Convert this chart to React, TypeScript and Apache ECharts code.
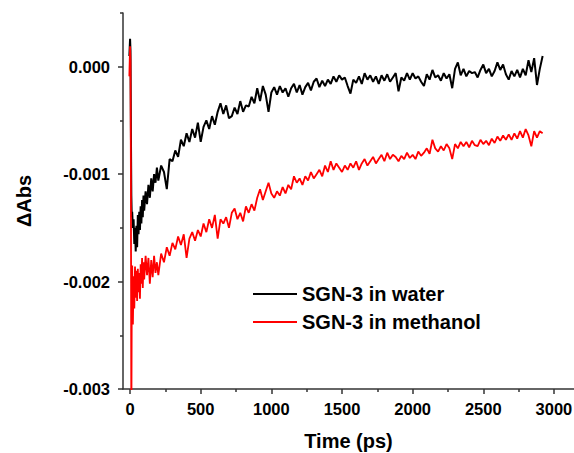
import React, { useEffect, useRef } from "react";
import * as echarts from "echarts";

// Time axis (ps)
const times: number[] = [
  -5, 0, 3, 6, 9, 12, 15,
  20, 25, 30, 35, 40, 45, 50, 55, 60, 65, 70, 75, 80, 85, 90, 95, 100,
  110, 120, 130, 140, 150, 160, 170, 180, 190, 200,
  220, 240, 260, 280, 300, 320, 340, 360, 380, 400,
  420, 440, 460, 480, 500, 520, 540, 560, 580, 600,
  620, 640, 660, 680, 700, 720, 740, 760, 780, 800,
  820, 840, 860, 880, 900, 920, 940, 960, 980, 1000,
  1020, 1040, 1060, 1080, 1100, 1120, 1140, 1160, 1180, 1200,
  1220, 1240, 1260, 1280, 1300, 1320, 1340, 1360, 1380, 1400,
  1420, 1440, 1460, 1480, 1500, 1520, 1540, 1560, 1580, 1600,
  1620, 1640, 1660, 1680, 1700, 1720, 1740, 1760, 1780, 1800,
  1820, 1840, 1860, 1880, 1900, 1920, 1940, 1960, 1980, 2000,
  2020, 2040, 2060, 2080, 2100, 2120, 2140, 2160, 2180, 2200,
  2220, 2240, 2260, 2280, 2300, 2320, 2340, 2360, 2380, 2400,
  2420, 2440, 2460, 2480, 2500, 2520, 2540, 2560, 2580, 2600,
  2620, 2640, 2660, 2680, 2700, 2720, 2740, 2760, 2780, 2800,
  2820, 2840, 2860, 2880, 2900, 2920,
];

// ΔAbs in units of 1e-4
const water: number[] = [
  1.0, 2.6, 1.5, -6, -12, -14, -13.5,
  -15, -14.2, -16.5, -15.0, -17.2, -14.8, -16.8, -13.8, -15.6, -13.5, -15.2, -13.0, -14.6, -12.4, -14.0, -12.0, -13.4,
  -11.6, -12.8, -11.0, -12.2, -10.4, -11.6, -10.0, -10.8, -9.4, -10.6,
  -9.2, -9.8, -11.4, -8.6, -8.8, -7.8, -8.4, -6.8, -7.4, -6.2,
  -7.0, -5.8, -6.6, -5.2, -7.0, -5.6, -5.0, -5.8, -4.6, -5.4,
  -4.2, -3.4, -4.4, -3.6, -4.8, -4.6, -3.8, -4.4, -3.2, -4.2,
  -3.6, -3.7, -2.8, -3.4, -2.0, -3.2, -1.8, -2.6, -4.2, -2.4,
  -1.9, -2.6, -1.8, -2.4, -2.0, -2.8, -2.0, -1.6, -2.4, -1.7,
  -2.6, -1.9, -1.5, -2.2, -1.4, -1.1, -1.9, -1.3, -1.8, -1.2,
  -1.6, -0.9, -1.4, -0.8, -1.2, -1.0, -1.8, -2.5, -1.2, -1.5,
  -0.9, -1.6, -0.6, -1.2, -0.8, -1.4, -0.9, -1.6, -0.8, -1.3,
  -0.7, -1.4, -1.0, -0.6, -2.3, -1.0, -1.3, -0.6, -1.2, -0.6,
  -1.1, -0.9, -1.4, -1.8, -0.7, -1.2, -0.3, -1.0, -0.8, -1.3,
  -0.6, -1.1, -0.7, -2.0, -0.2, 0.4, -0.8, -0.2, -0.9, -0.4,
  -0.6, -0.5, -1.0, -0.3, 0.2, -0.6, -0.2, -0.9, -0.4, 0.4,
  -0.3, 0.2, -0.7, -1.2, -0.4, -0.9, -0.3, -1.0, -0.2, -0.8,
  0.6, -0.5, 0.8, -1.7, -0.2, 1.0,
];

const methanol: number[] = [
  -0.9, 1.9, 0.5, -10, -34, -22, -18.5,
  -24, -19.5, -22.5, -18.6, -21.5, -19.0, -21.8, -18.8, -21.0, -19.2, -21.6, -18.4, -20.2, -17.8, -20.6, -18.2, -19.8,
  -17.6, -19.4, -17.8, -20.2, -18.0, -19.6, -17.6, -19.2, -18.2, -19.4,
  -17.4, -18.2, -16.8, -17.6, -16.4, -17.0, -15.8, -16.6, -15.6, -17.8,
  -16.0, -15.4, -16.2, -15.2, -15.8, -14.6, -15.4, -14.2, -15.0, -13.8,
  -16.0, -14.2, -14.6, -14.0, -15.0, -13.6, -13.2, -14.2, -13.6, -14.4,
  -13.0, -13.6, -12.8, -13.4, -12.2, -11.4, -12.4, -11.6, -10.8, -11.8,
  -12.2, -11.6, -12.0, -11.2, -11.8, -11.0, -11.4, -10.2, -10.8, -10.4,
  -11.0, -10.2, -10.6, -9.8, -10.4, -10.0, -9.6, -10.2, -9.2, -9.8,
  -8.8, -9.6, -9.0, -9.4, -9.8, -9.2, -9.6, -9.0, -9.4, -8.8,
  -9.6, -9.0, -8.6, -9.2, -8.8, -8.4, -9.0, -8.6, -8.2, -8.8,
  -8.0, -8.6, -8.2, -8.4, -8.8, -8.3, -8.6, -8.0, -8.5, -8.2,
  -8.6, -7.9, -8.3, -8.0, -7.6, -8.1, -6.8, -7.6, -7.9, -7.4,
  -7.8, -7.2, -7.6, -8.6, -7.2, -7.6, -7.0, -7.4, -7.0, -7.5,
  -6.9, -7.3, -7.4, -6.8, -7.2, -6.9, -7.3, -6.7, -7.1, -6.5,
  -6.9, -6.4, -6.8, -6.3, -6.8, -6.2, -6.7, -6.0, -6.6, -5.8,
  -6.4, -7.4, -6.0, -6.6, -6.0, -6.2,
];

const seriesNames = ["SGN-3 in water", "SGN-3 in methanol"];
const seriesColors = ["#000000", "#ff0000"];
const xMajorTicks = [0, 500, 1000, 1500, 2000, 2500, 3000];
const xMinorTicks = [250, 750, 1250, 1750, 2250, 2750];
const yMajorTicks = [-30, -20, -10, 0];
const yMinorTicks = [-25, -15, -5, 5];

const FONT = 'Arial, "Liberation Sans", sans-serif';
const X_MIN = -50;
const X_MAX = 3142;
const Y_MIN = -30;
const Y_MAX = 5;

export default function App() {
  const ref = useRef<HTMLDivElement>(null);

  useEffect(() => {
    if (!ref.current) return;
    const chart = echarts.init(ref.current, undefined, { renderer: "svg" });
    const axisColor = "#333";
    const labelStyle = {
      color: "#000",
      fontFamily: FONT,
      fontWeight: "bold" as const,
      fontSize: 16.5,
    };
    const gridBox = { left: 123, top: 13, right: 0, bottom: 64, containLabel: false, outerBoundsMode: "none" };
    const option = {
      animation: false,
      backgroundColor: "#fff",
      grid: [{ ...gridBox }, { ...gridBox }],
      legend: {
        orient: "vertical",
        left: 253,
        top: 284,
        padding: 0,
        itemWidth: 44,
        itemHeight: 2,
        itemGap: 8,
        icon: "rect",
        data: seriesNames.map((n, i) => ({ name: n, itemStyle: { color: seriesColors[i] } })),
        textStyle: {
          color: "#000",
          fontFamily: FONT,
          fontWeight: "bold",
          fontSize: 20,
          lineHeight: 20,
        },
      },
      xAxis: [
        {
          type: "value",
          gridIndex: 0,
          min: X_MIN,
          max: X_MAX,
          name: "Time (ps)",
          nameLocation: "middle",
          nameGap: 42,
          nameTextStyle: { ...labelStyle, fontSize: 20 },
          axisLine: { show: true, onZero: false, lineStyle: { color: axisColor, width: 1.5 } },
          axisTick: { show: true, inside: false, length: 5, customValues: xMajorTicks, lineStyle: { color: axisColor, width: 1.5 } },
          axisLabel: {
            show: true,
            margin: 11,
            customValues: xMajorTicks,
            formatter: (v: number) => String(v),
            ...labelStyle,
          },
          splitLine: { show: false },
        },
        {
          type: "value",
          gridIndex: 1,
          min: X_MIN,
          max: X_MAX,
          position: "bottom",
          axisLine: { show: false, onZero: false },
          axisTick: { show: true, inside: false, length: 3, customValues: xMinorTicks, lineStyle: { color: axisColor, width: 1.5 } },
          axisLabel: { show: false },
          splitLine: { show: false },
        },
      ],
      yAxis: [
        {
          type: "value",
          gridIndex: 0,
          min: Y_MIN,
          max: Y_MAX,
          name: "ΔAbs",
          nameLocation: "middle",
          nameGap: 89,
          nameTextStyle: { ...labelStyle, fontSize: 20 },
          axisLine: { show: true, onZero: false, lineStyle: { color: axisColor, width: 1.5 } },
          axisTick: { show: true, inside: false, length: 5, customValues: yMajorTicks, lineStyle: { color: axisColor, width: 1.5 } },
          axisLabel: {
            show: true,
            margin: 13,
            customValues: yMajorTicks,
            formatter: (v: number) => (v / 10000).toFixed(3),
            ...labelStyle,
          },
          splitLine: { show: false },
        },
        {
          type: "value",
          gridIndex: 1,
          min: Y_MIN,
          max: Y_MAX,
          position: "left",
          axisLine: { show: false, onZero: false },
          axisTick: { show: true, inside: false, length: 3, customValues: yMinorTicks, lineStyle: { color: axisColor, width: 1.5 } },
          axisLabel: { show: false },
          splitLine: { show: false },
        },
      ],
      series: [
        {
          name: seriesNames[0],
          type: "line",
          xAxisIndex: 0,
          yAxisIndex: 0,
          symbol: "none",
          clip: true,
          lineStyle: { color: seriesColors[0], width: 2 },
          itemStyle: { color: seriesColors[0] },
          data: times.map((t, i) => [t, water[i]]),
          z: 3,
        },
        {
          name: seriesNames[1],
          type: "line",
          xAxisIndex: 0,
          yAxisIndex: 0,
          symbol: "none",
          clip: true,
          lineStyle: { color: seriesColors[1], width: 1.8 },
          itemStyle: { color: seriesColors[1] },
          data: times.map((t, i) => [t, methanol[i]]),
          z: 4,
        },
      ],
    };
    chart.setOption(option as any);
    return () => chart.dispose();
  }, []);

  return (
    <div
      ref={ref}
      style={{ position: "fixed", left: 0, top: 0, width: 574, height: 453, background: "#fff" }}
    />
  );
}
